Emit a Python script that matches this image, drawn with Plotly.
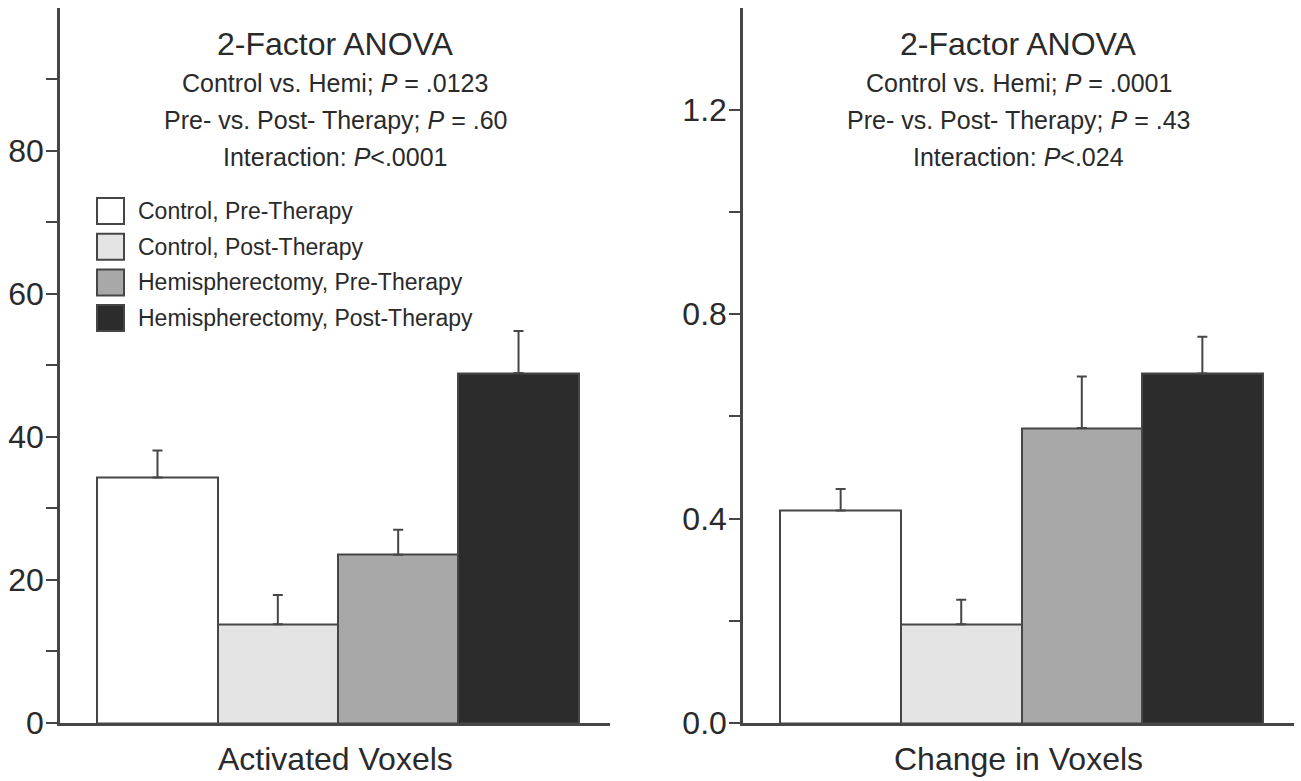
import plotly.graph_objects as go

# ---- data ----
groups = ["Control, Pre-Therapy", "Control, Post-Therapy",
          "Hemispherectomy, Pre-Therapy", "Hemispherectomy, Post-Therapy"]
bar_colors = ["#ffffff", "#e4e4e4", "#a8a8a8", "#2c2c2c"]

activated_voxels = [34.3, 13.8, 23.5, 48.9]
activated_err = [3.8, 4.1, 3.5, 5.9]

change_voxels = [0.416, 0.193, 0.577, 0.684]
change_err = [0.042, 0.048, 0.101, 0.072]

left_ticks = [0, 20, 40, 60, 80]
left_minor = [10, 30, 50, 70, 90]
right_ticks = [0.0, 0.4, 0.8, 1.2]
right_tick_text = ["0.0", "0.4", "0.8", "1.2"]
right_minor = [0.2, 0.6, 1.0]

left_stats = ["Control vs. Hemi; <i>P</i> = .0123",
              "Pre- vs. Post- Therapy; <i>P</i> = .60",
              "Interaction: <i>P</i>&lt;.0001"]
right_stats = ["Control vs. Hemi; <i>P</i> = .0001",
               "Pre- vs. Post- Therapy; <i>P</i> = .43",
               "Interaction: <i>P</i>&lt;.024"]

W, H = 1301, 781
FONT = "Liberation Sans, Arial, sans-serif"
INK = "#2a2a2a"
LINE = "#464646"

def py(px):
    return (H - px) / H

def px_x(px):
    return px / W

fig = go.Figure()

for vals, errs, xa, ya in [(activated_voxels, activated_err, "x", "y"),
                           (change_voxels, change_err, "x2", "y2")]:
    fig.add_trace(go.Bar(
        x=groups, y=vals, width=1.0,
        marker=dict(color=bar_colors, line=dict(color=LINE, width=2)),
        error_y=dict(type="data", array=errs, arrayminus=[0] * len(errs),
                     symmetric=False, color=LINE, thickness=2, width=5),
        xaxis=xa, yaxis=ya, showlegend=False, hoverinfo="x+y",
    ))

ydom = [py(723), py(7.5)]
xcommon = dict(showline=True, linecolor=LINE, linewidth=2.5, ticks="",
               showticklabels=False, showgrid=False, zeroline=False,
               range=[-0.81, 3.76], type="category", fixedrange=True)
ycommon = dict(showline=True, linecolor=LINE, linewidth=2.5, ticks="outside",
               ticklen=11, tickwidth=2, tickcolor=LINE, showgrid=False,
               zeroline=False, tickfont=dict(family=FONT, size=32, color=INK),
               automargin=False, fixedrange=True, ticklabelstandoff=-4)

fig.update_layout(
    width=W, height=H,
    margin=dict(l=0, r=0, t=0, b=0),
    paper_bgcolor="white", plot_bgcolor="white",
    bargap=0,
    xaxis=dict(domain=[px_x(60), px_x(610)], anchor="y", **xcommon),
    xaxis2=dict(domain=[px_x(743), px_x(1294)], anchor="y2", **xcommon),
    yaxis=dict(domain=ydom, anchor="x", range=[0, 100], tickvals=left_ticks,
               minor=dict(tickvals=left_minor, ticks="outside", ticklen=11,
                          tickwidth=2, tickcolor=LINE),
               **ycommon),
    yaxis2=dict(domain=ydom, anchor="x2", range=[0, 1.4], tickvals=right_ticks,
                ticktext=right_tick_text,
                minor=dict(tickvals=right_minor, ticks="outside", ticklen=11,
                           tickwidth=2, tickcolor=LINE),
                **ycommon),
    font=dict(family=FONT, color=INK),
)

annotations = []
for xref, stats, xlabel in [("x domain", left_stats, "Activated Voxels"),
                            ("x2 domain", right_stats, "Change in Voxels")]:
    annotations.append(dict(xref=xref, yref="paper", x=0.5, y=py(44),
                            text="2-Factor ANOVA", showarrow=False,
                            xanchor="center", yanchor="middle",
                            font=dict(family=FONT, size=32, color=INK)))
    for i, s in enumerate(stats):
        annotations.append(dict(xref=xref, yref="paper", x=0.5,
                                y=py(83 + 37 * i), text=s, showarrow=False,
                                xanchor="center", yanchor="middle",
                                font=dict(family=FONT, size=25, color=INK)))
    annotations.append(dict(xref=xref, yref="paper", x=0.5, y=py(759),
                            text=xlabel, showarrow=False,
                            xanchor="center", yanchor="middle",
                            font=dict(family=FONT, size=32, color=INK)))

# custom legend (left panel)
shapes = []
for i, (g, c) in enumerate(zip(groups, bar_colors)):
    top = 198 + 35.7 * i
    shapes.append(dict(type="rect", xref="paper", yref="paper",
                       x0=px_x(97), x1=px_x(124), y0=py(top + 26), y1=py(top),
                       fillcolor=c, line=dict(color=LINE, width=2)))
    annotations.append(dict(xref="paper", yref="paper", x=px_x(136),
                            y=py(top + 13), text=g, showarrow=False,
                            xanchor="left", yanchor="middle",
                            font=dict(family=FONT, size=23, color=INK)))

fig.update_layout(annotations=annotations, shapes=shapes)

fig.write_html("out.html",
               config={"displayModeBar": False},
               post_script="document.body.style.margin='0px';"
                           "document.body.style.overflow='hidden';")
